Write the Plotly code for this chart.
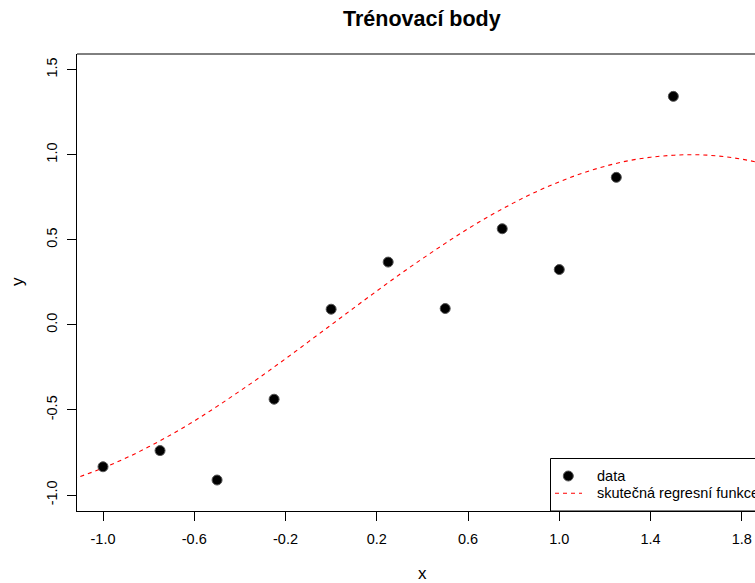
import plotly.graph_objects as go

# ---- data ----
x_data = [-1.0, -0.75, -0.5, -0.25, 0.0, 0.25, 0.5, 0.75, 1.0, 1.25, 1.5]
y_data = [-0.834, -0.739, -0.912, -0.437, 0.092, 0.369, 0.096, 0.565, 0.325, 0.867, 1.343]

curve_x = [-1.2, -1.1, -1.0, -0.9, -0.8, -0.7, -0.6, -0.5, -0.4, -0.3, -0.2, -0.1,
           0.0, 0.1, 0.2, 0.3, 0.4, 0.5, 0.6, 0.7, 0.8, 0.9, 1.0, 1.1, 1.2, 1.3,
           1.4, 1.5, 1.6, 1.7, 1.8, 1.9, 2.0]
curve_y = [-0.932, -0.891, -0.841, -0.783, -0.717, -0.644, -0.565, -0.479, -0.389, -0.296, -0.199, -0.100,
           0.000, 0.100, 0.199, 0.296, 0.389, 0.479, 0.565, 0.644, 0.717, 0.783, 0.841, 0.891, 0.932, 0.964,
           0.985, 0.997, 1.000, 0.992, 0.974, 0.946, 0.909]

x_ticks = [-1.0, -0.6, -0.2, 0.2, 0.6, 1.0, 1.4, 1.8]
x_ticklabels = ["-1.0", "-0.6", "-0.2", "0.2", "0.6", "1.0", "1.4", "1.8"]
y_ticks = [-1.0, -0.5, 0.0, 0.5, 1.0, 1.5]
y_ticklabels = ["-1.0", "-0.5", "0.0", "0.5", "1.0", "1.5"]

title_text = "Trénovací body"
legend_labels = ["data", "skutečná regresní funkce"]

# ---- layout geometry ----
W, H = 755, 583
ML, MR, MT, MB = 77, 0, 54, 72
PW, PH = W - ML - MR, H - MT - MB
FONT = "Liberation Sans, Arial, sans-serif"


def px(xp):
    return (xp - ML) / PW


def py(yp):
    return (H - MB - yp) / PH


fig = go.Figure()
fig.add_trace(go.Scatter(
    x=curve_x, y=curve_y, mode="lines", line_shape="spline",
    line=dict(color="#FF0000", width=1.1, dash="4px,4px"),
    showlegend=False, hoverinfo="skip"))
fig.add_trace(go.Scatter(
    x=x_data, y=y_data, mode="markers",
    marker=dict(color="black", size=10, line=dict(color="#555555", width=1)),
    showlegend=False))

fig.update_layout(
    width=W, height=H,
    margin=dict(l=ML, r=MR, t=MT, b=MB),
    paper_bgcolor="white", plot_bgcolor="white",
    font=dict(family=FONT, color="black", size=14),
    showlegend=False,
    xaxis=dict(range=[-1.114, 1.858], tickvals=x_ticks, ticktext=x_ticklabels,
               ticks="outside", ticklen=9, tickcolor="black", tickwidth=1,
               ticklabelstandoff=6,
               showline=True, linecolor="black", linewidth=1, showgrid=False,
               zeroline=False, tickfont=dict(size=14.5), fixedrange=True),
    yaxis=dict(range=[-1.094, 1.592], tickvals=y_ticks, ticktext=y_ticklabels,
               ticks="outside", ticklen=9, tickcolor="black", tickwidth=1,
               ticklabelstandoff=4,
               showline=True, linecolor="black", linewidth=1, showgrid=False,
               zeroline=False, tickangle=-90, tickfont=dict(size=14.5), fixedrange=True),
)

shapes = [
    # top frame line
    dict(type="line", xref="paper", yref="paper", x0=0, x1=1.05, y0=1, y1=1,
         line=dict(color="black", width=1)),
    # legend box
    dict(type="rect", xref="paper", yref="paper", x0=px(550.5), x1=1.2, y0=py(511), y1=py(458.5),
         line=dict(color="black", width=1), fillcolor="white", layer="above"),
    # legend marker
    dict(type="circle", xref="paper", yref="paper", xsizemode="pixel", ysizemode="pixel",
         xanchor=px(568.3), yanchor=py(476), x0=-5, x1=5, y0=-5, y1=5,
         fillcolor="black", line=dict(color="#555555", width=1), layer="above"),
    # legend dashed line
    dict(type="line", xref="paper", yref="paper", x0=px(555), x1=px(582), y0=py(493.3), y1=py(493.3),
         line=dict(color="#FF0000", width=1.1, dash="4px,4px"), layer="above"),
]
fig.update_layout(shapes=shapes)

annotations = [
    dict(text="<b>%s</b>" % title_text, xref="paper", yref="paper", x=px(422), y=py(19),
         xanchor="center", yanchor="middle", showarrow=False, font=dict(size=21.5)),
    dict(text="x", xref="paper", yref="paper", x=px(422), y=py(573),
         xanchor="center", yanchor="middle", showarrow=False, font=dict(size=17)),
    dict(text="y", xref="paper", yref="paper", x=px(17), y=py(282), textangle=-90,
         xanchor="center", yanchor="middle", showarrow=False, font=dict(size=17)),
    dict(text=legend_labels[0], xref="paper", yref="paper", x=px(595), y=py(476),
         xanchor="left", yanchor="middle", showarrow=False, font=dict(size=14.5)),
    dict(text=legend_labels[1], xref="paper", yref="paper", x=px(595), y=py(493.3),
         xanchor="left", yanchor="middle", showarrow=False, font=dict(size=14.5)),
]
fig.update_layout(annotations=annotations)

fig.write_html("out.html", config={"displayModeBar": False},
               post_script="document.body.style.margin='0';document.body.style.overflow='hidden';")
